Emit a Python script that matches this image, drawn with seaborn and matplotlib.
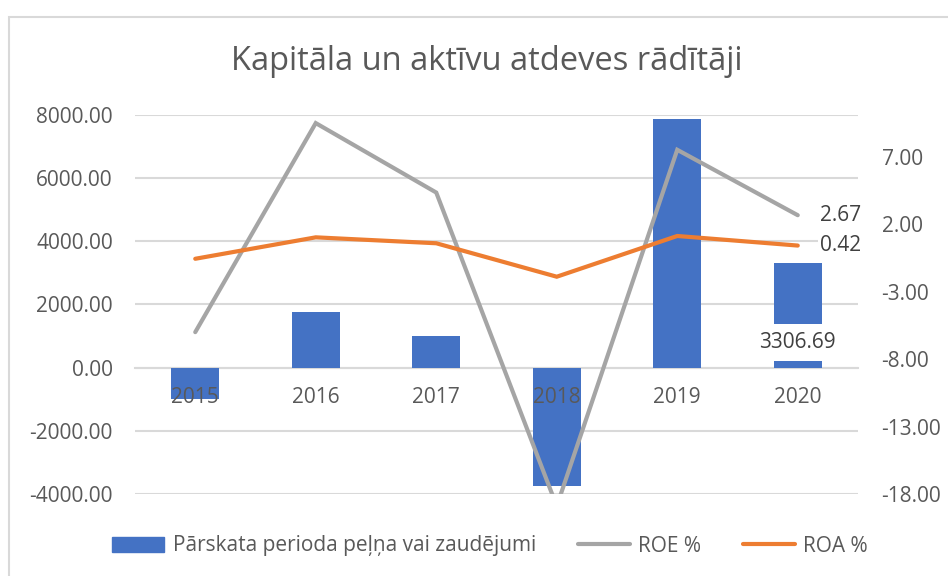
# import libraries
import numpy as np
import matplotlib.pyplot as plt
import seaborn as sns
from matplotlib.patches import Patch, Rectangle
from matplotlib.lines import Line2D

# Data
years = ["2015", "2016", "2017", "2018", "2019", "2020"]
profit = [-990, 1772, 1003, -3734, 7861, 3306.69]
roe = [-6.0, 9.5, 4.35, -18.9, 7.52, 2.67]
roa = [-0.56, 1.03, 0.59, -1.89, 1.13, 0.42]

title = "Kapitāla un aktīvu atdeves rādītāji"
profit_label = "Pārskata perioda peļņa vai zaudējumi"
roe_label = "ROE %"
roa_label = "ROA %"

BLUE = "#4472C4"
GREY = "#A5A5A5"
ORANGE = "#ED7D31"
GRID = "#D9D9D9"
TXT = "#595959"
DARK = "#404040"

# Setup
sns.set_style("white")
plt.rcParams["font.family"] = ["Open Sans", "DejaVu Sans"]
FS = 15

fig = plt.figure(figsize=(9.48, 5.76), dpi=100)
ax = fig.add_axes([135 / 948, 1 - 494 / 576, (858 - 135) / 948, (494 - 115) / 576])
ax2 = ax.twinx()

# Bars - profit / loss (left axis)
sns.barplot(x=years, y=profit, color=BLUE, saturation=1, width=0.4,
            linewidth=0, ax=ax, zorder=1)
ax.set_ylim(-4000, 8000)
ax.set_yticks(np.arange(-4000, 8001, 2000))
ax.yaxis.set_major_formatter(plt.FuncFormatter(lambda v, p: f"{v:.2f}"))
ax.set_xlim(-0.5, len(years) - 0.5)
ax.set_xlabel("")
ax.set_ylabel("")
for t in ax.get_yticks():
    ax.axhline(t, color=GRID, lw=1.5, zorder=0.5)
ax.set_axisbelow(False)
for s in ["top", "left", "right"]:
    ax.spines[s].set_visible(False)
ax.spines["bottom"].set_position(("data", 0))
ax.spines["bottom"].set_color(GRID)
ax.spines["bottom"].set_linewidth(1.5)
ax.spines["bottom"].set_zorder(0.5)
ax.tick_params(axis="x", length=0, pad=14, labelsize=FS, labelcolor=TXT)
ax.tick_params(axis="y", length=0, pad=16, labelsize=FS, labelcolor=TXT)

# Lines - ROE / ROA (right axis)
xpos = np.arange(len(years))
sns.lineplot(x=xpos, y=roe, color=GREY, lw=3, ax=ax2,
             solid_capstyle="round", solid_joinstyle="miter")
sns.lineplot(x=xpos, y=roa, color=ORANGE, lw=3, ax=ax2,
             solid_capstyle="round", solid_joinstyle="miter")
ax2.set_ylim(-18, 10.1)
ax2.set_yticks(np.arange(-18, 7.1, 5))
ax2.yaxis.set_major_formatter(plt.FuncFormatter(lambda v, p: f"{v:.2f}"))
ax2.set_ylabel("")
for s in ax2.spines.values():
    s.set_visible(False)
ax2.tick_params(axis="y", length=0, pad=17, labelsize=FS, labelcolor=TXT)

# Data labels for 2020
box = dict(boxstyle="square,pad=0.4", fc="white", ec="none")
small_box = dict(boxstyle="square,pad=0.1", fc="white", ec="none")
ax2.annotate(f"{roe[-1]:.2f}", xy=(xpos[-1], roe[-1]), xytext=(16, 0),
             textcoords="offset points", ha="left", va="center",
             fontsize=FS, color=DARK, bbox=small_box)
ax2.annotate(f"{roa[-1]:.2f}", xy=(xpos[-1], roa[-1]), xytext=(16, 0),
             textcoords="offset points", ha="left", va="center",
             fontsize=FS, color=DARK, bbox=small_box)
ax.annotate(f"{profit[-1]:.2f}", xy=(xpos[-1], 0), xytext=(0, 18),
            textcoords="offset points", ha="center", va="center",
            fontsize=FS, color=DARK, bbox=box, zorder=5)

# Title
fig.text(487 / 948, 1 - 62 / 576, title, ha="center", va="center",
         fontsize=23.5, color=TXT)

# Legend
handles = [Patch(color=BLUE),
           Line2D([], [], color=GREY, lw=3, solid_capstyle="round"),
           Line2D([], [], color=ORANGE, lw=3, solid_capstyle="round")]
fig.legend(handles, [profit_label, roe_label, roa_label], loc="center",
           bbox_to_anchor=(490 / 948, 1 - 546 / 576), ncol=3, frameon=False,
           fontsize=FS, labelcolor=TXT, handlelength=2.5, handletextpad=0.4,
           columnspacing=2.0)

# Chart border
fig.add_artist(Rectangle((9 / 948, -0.1), 1.2, 1 - 17 / 576 + 0.1,
                         transform=fig.transFigure, fill=False,
                         edgecolor=GRID, lw=1.5, clip_on=False))

plt.savefig("out.png", dpi=100)
